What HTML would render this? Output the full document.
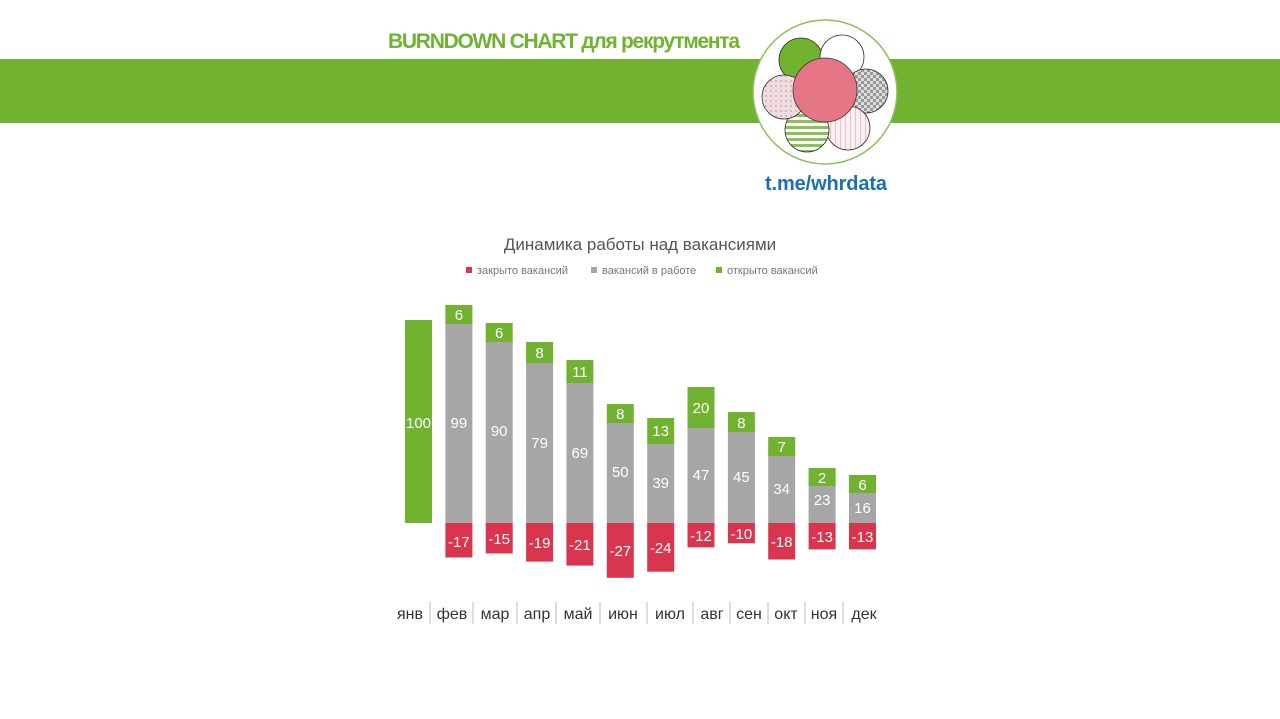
<!DOCTYPE html>
<html><head><meta charset="utf-8"><style>
body{margin:0;background:#fff;}
svg{display:block;font-family:"Liberation Sans",sans-serif;}
</style></head><body>
<svg width="1280" height="719" viewBox="0 0 1280 719" xmlns="http://www.w3.org/2000/svg">
<defs>
<pattern id="chk" width="6" height="6" patternUnits="userSpaceOnUse"><rect width="6" height="6" fill="#ddd"/><rect width="3" height="3" fill="#999"/><rect x="3" y="3" width="3" height="3" fill="#999"/></pattern>
<pattern id="hs" width="6" height="6" patternUnits="userSpaceOnUse"><rect width="6" height="6" fill="#fff"/><rect width="6" height="3" fill="#8dc05a"/></pattern>
<pattern id="vs" width="5" height="5" patternUnits="userSpaceOnUse"><rect width="5" height="5" fill="#fbeef0"/><rect width="1" height="5" fill="#e6c3c9"/></pattern>
<pattern id="ds" width="5" height="5" patternUnits="userSpaceOnUse"><rect width="5" height="5" fill="#f0dde0"/><rect width="2" height="2" fill="#d8b8be"/></pattern>
</defs>
<rect x="0" y="59" width="1280" height="64" fill="#72b231"/>
<text x="388" y="48" font-size="21" font-weight="bold" fill="#72b231" textLength="352">BURNDOWN CHART для рекрутмента</text>
<circle cx="825" cy="92" r="72" fill="#fff" stroke="#8dc05a" stroke-width="1.5"/>
<circle cx="801" cy="60" r="22" fill="#72b231" stroke="#333" stroke-width="0.8"/>
<circle cx="842" cy="57" r="22" fill="#fff" stroke="#333" stroke-width="0.8"/>
<circle cx="866" cy="91" r="22" fill="url(#chk)" stroke="#333" stroke-width="0.8"/>
<circle cx="848" cy="128" r="22" fill="url(#vs)" stroke="#333" stroke-width="0.8"/>
<circle cx="807" cy="130" r="22" fill="url(#hs)" stroke="#333" stroke-width="0.8"/>
<circle cx="784" cy="97" r="22" fill="url(#ds)" stroke="#333" stroke-width="0.8"/>
<circle cx="825" cy="90" r="32" fill="#e57686" stroke="#333" stroke-width="0.8"/>
<text x="765" y="190" font-size="20" font-weight="bold" fill="#1a6fb5" textLength="122">t.me/whrdata</text>

<text x="640" y="250" font-size="17" fill="#555" text-anchor="middle">Динамика работы над вакансиями</text>
<g font-size="11" fill="#777">
<rect x="466" y="267" width="6" height="6" fill="#d9354f"/><text x="477" y="274">закрыто вакансий</text>
<rect x="591" y="267" width="6" height="6" fill="#a6a6a6"/><text x="602" y="274">вакансий в работе</text>
<rect x="716" y="267" width="6" height="6" fill="#72b231"/><text x="727" y="274">открыто вакансий</text>
</g>

<g fill="#a6a6a6">
<rect x="445.4" y="322" width="27" height="201"/>
<rect x="485.7" y="340" width="27" height="183"/>
<rect x="526.1" y="362.6" width="27" height="160.4"/>
<rect x="566.4" y="383" width="27" height="140"/>
<rect x="606.8" y="421.5" width="27" height="101.5"/>
<rect x="647.2" y="443.8" width="27" height="79.2"/>
<rect x="687.5" y="427.6" width="27" height="95.4"/>
<rect x="727.9" y="431.6" width="27" height="91.4"/>
<rect x="768.2" y="454" width="27" height="69"/>
<rect x="808.6" y="476.3" width="27" height="46.7"/>
<rect x="849" y="490.5" width="27" height="32.5"/>
</g>
<g fill="#72b231">
<rect x="405" y="320" width="27" height="203"/>
<rect x="445.4" y="305" width="27" height="19"/>
<rect x="485.7" y="323" width="27" height="19"/>
<rect x="526.1" y="342" width="27" height="21"/>
<rect x="566.4" y="360" width="27" height="23"/>
<rect x="606.8" y="404" width="27" height="19"/>
<rect x="647.2" y="418" width="27" height="26"/>
<rect x="687.5" y="387" width="27" height="41"/>
<rect x="727.9" y="412" width="27" height="20"/>
<rect x="768.2" y="437" width="27" height="19"/>
<rect x="808.6" y="468" width="27" height="18"/>
<rect x="849" y="475" width="27" height="18"/>
</g>
<g fill="#d9354f">
<rect x="445.4" y="523" width="27" height="34.5"/>
<rect x="485.7" y="523" width="27" height="30.5"/>
<rect x="526.1" y="523" width="27" height="38.6"/>
<rect x="566.4" y="523" width="27" height="42.6"/>
<rect x="606.8" y="523" width="27" height="54.8"/>
<rect x="647.2" y="523" width="27" height="48.7"/>
<rect x="687.5" y="523" width="27" height="24.4"/>
<rect x="727.9" y="523" width="27" height="20.3"/>
<rect x="768.2" y="523" width="27" height="36.5"/>
<rect x="808.6" y="523" width="27" height="26.4"/>
<rect x="849" y="523" width="27" height="26.4"/>
</g>
<g fill="#fff" font-size="15" text-anchor="middle">
<text x="418.5" y="428">100</text>
<text x="458.9" y="320">6</text><text x="458.9" y="428">99</text><text x="458.9" y="547">-17</text>
<text x="499.2" y="338">6</text><text x="499.2" y="436">90</text><text x="499.2" y="544">-15</text>
<text x="539.6" y="358">8</text><text x="539.6" y="448">79</text><text x="539.6" y="548">-19</text>
<text x="579.9" y="377">11</text><text x="579.9" y="458">69</text><text x="579.9" y="550">-21</text>
<text x="620.3" y="419">8</text><text x="620.3" y="477">50</text><text x="620.3" y="556">-27</text>
<text x="660.7" y="436">13</text><text x="660.7" y="488">39</text><text x="660.7" y="553">-24</text>
<text x="701.0" y="413">20</text><text x="701.0" y="480">47</text><text x="701.0" y="541">-12</text>
<text x="741.4" y="428">8</text><text x="741.4" y="482">45</text><text x="741.4" y="539">-10</text>
<text x="781.7" y="452">7</text><text x="781.7" y="494">34</text><text x="781.7" y="547">-18</text>
<text x="822.1" y="483">2</text><text x="822.1" y="505">23</text><text x="822.1" y="542">-13</text>
<text x="862.5" y="490">6</text><text x="862.5" y="513">16</text><text x="862.5" y="542">-13</text>
</g>
<g stroke="#bbb">
<line x1="430" y1="602" x2="430" y2="624"/><line x1="473" y1="602" x2="473" y2="624"/>
<line x1="517" y1="602" x2="517" y2="624"/><line x1="556" y1="602" x2="556" y2="624"/>
<line x1="600" y1="602" x2="600" y2="624"/><line x1="647" y1="602" x2="647" y2="624"/>
<line x1="693" y1="602" x2="693" y2="624"/><line x1="730" y1="602" x2="730" y2="624"/>
<line x1="768" y1="602" x2="768" y2="624"/><line x1="805" y1="602" x2="805" y2="624"/>
<line x1="843" y1="602" x2="843" y2="624"/>
</g>
<g fill="#333" font-size="16" text-anchor="middle">
<text x="410" y="619">янв</text><text x="452" y="619">фев</text><text x="495" y="619">мар</text>
<text x="537" y="619">апр</text><text x="578" y="619">май</text><text x="623" y="619">июн</text>
<text x="670" y="619">июл</text><text x="712" y="619">авг</text><text x="749" y="619">сен</text>
<text x="786" y="619">окт</text><text x="824" y="619">ноя</text><text x="864" y="619">дек</text>
</g>
</svg>
</body></html>
